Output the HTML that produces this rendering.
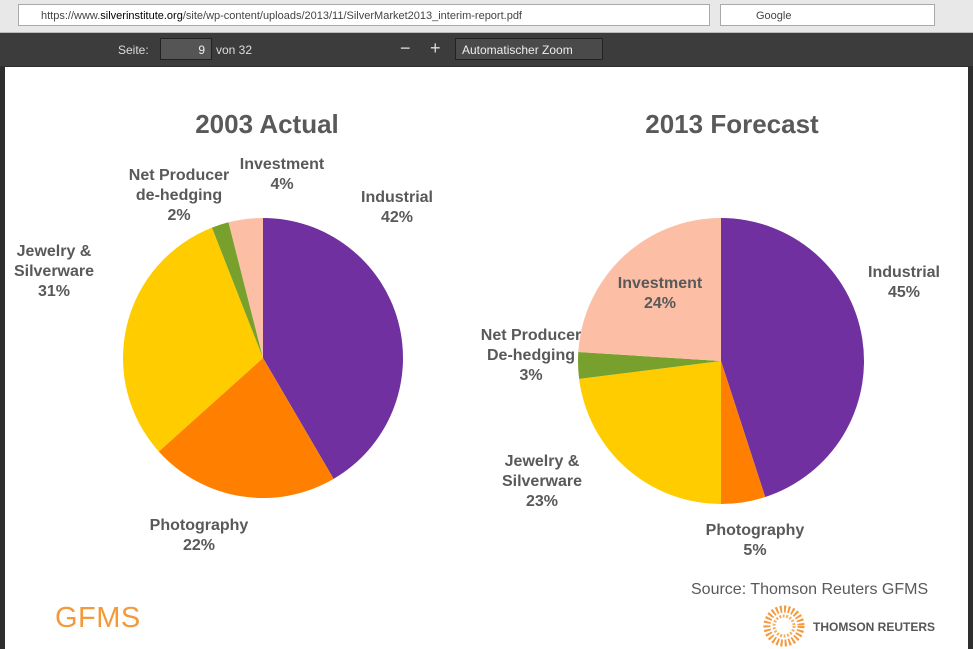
<!DOCTYPE html>
<html><head><meta charset="utf-8"><style>
body{margin:0;width:973px;height:649px;overflow:hidden;background:#2e2e2e;font-family:"Liberation Sans",sans-serif;position:relative}
.abs{position:absolute}
.lbl{position:absolute;font-weight:bold;font-size:16px;color:#595959;text-align:center;line-height:20px;white-space:nowrap;transform:translateX(-50%)}
</style></head><body>
<div class="abs" style="left:0;top:0;width:973px;height:32px;background:#e8e8e8;border-bottom:1px solid #bbb"></div>
<div class="abs" style="left:18px;top:4px;width:692px;height:22px;background:#fff;border:1px solid #aaa;font-size:11px;line-height:22px;color:#444;padding-left:22px;box-sizing:border-box">https://www.<b style="color:#000;font-weight:normal">silverinstitute.org</b>/site/wp-content/uploads/2013/11/SilverMarket2013_interim-report.pdf</div>
<div class="abs" style="left:720px;top:4px;width:215px;height:22px;background:#fff;border:1px solid #aaa;font-size:11px;line-height:22px;color:#444;padding-left:35px;box-sizing:border-box">Google</div>
<div class="abs" style="left:0;top:33px;width:973px;height:33px;background:#3c3c3c;color:#ddd;font-size:12px"></div>
<div class="abs" style="left:118px;top:43px;color:#ddd;font-size:12px">Seite:</div>
<div class="abs" style="left:160px;top:38px;width:52px;height:22px;background:#555;border:1px solid #222;color:#eee;font-size:12px;line-height:22px;text-align:right;padding-right:6px;box-sizing:border-box">9</div>
<div class="abs" style="left:216px;top:43px;color:#ddd;font-size:12px">von 32</div>
<div class="abs" style="left:455px;top:38px;width:148px;height:22px;background:#4a4a4a;border:1px solid #222;color:#eee;font-size:12px;line-height:22px;padding-left:6px;box-sizing:border-box">Automatischer Zoom</div>
<div class="abs" style="left:400px;top:38px;color:#ddd;font-size:18px">−</div>
<div class="abs" style="left:430px;top:38px;color:#ddd;font-size:18px">+</div>
<div class="abs" style="left:5px;top:67px;width:963px;height:582px;background:#fff"></div>
<svg class="abs" style="left:0;top:0" width="973" height="649">
<text x="267" y="133" font-size="26" font-weight="bold" fill="#595959" text-anchor="middle" font-family="Liberation Sans">2003 Actual</text>
<text x="732" y="133" font-size="26" font-weight="bold" fill="#595959" text-anchor="middle" font-family="Liberation Sans">2013 Forecast</text>
<g id="p1"></g><g id="p2"></g>
</svg>
<div class="lbl" style="left:282px;top:155px">Investment<br>4%</div>
<div class="lbl" style="left:179px;top:166px">Net Producer<br>de-hedging<br>2%</div>
<div class="lbl" style="left:397px;top:188px">Industrial<br>42%</div>
<div class="lbl" style="left:54px;top:242px">Jewelry &amp;<br>Silverware<br>31%</div>
<div class="lbl" style="left:199px;top:516px">Photography<br>22%</div>
<div class="lbl" style="left:904px;top:263px">Industrial<br>45%</div>
<div class="lbl" style="left:660px;top:274px">Investment<br>24%</div>
<div class="lbl" style="left:531px;top:326px">Net Producer<br>De-hedging<br>3%</div>
<div class="lbl" style="left:542px;top:452px">Jewelry &amp;<br>Silverware<br>23%</div>
<div class="lbl" style="left:755px;top:521px">Photography<br>5%</div>
<div class="abs" style="left:691px;top:581px;font-size:16px;color:#595959">Source: Thomson Reuters GFMS</div>
<div class="abs" style="left:55px;top:602px;font-size:29px;color:#f39a3c;letter-spacing:0.5px">GFMS</div>
<svg class="abs" style="left:763px;top:605px" width="42" height="42">
<circle cx="21" cy="21" r="17" fill="none" stroke="#f39a3c" stroke-width="7" stroke-dasharray="2 2"/>
<circle cx="21" cy="21" r="10" fill="none" stroke="#f7b060" stroke-width="3" stroke-dasharray="2 1.5"/>
</svg>
<div class="abs" style="left:813px;top:620px;font-size:12px;font-weight:bold;color:#555">THOMSON REUTERS</div>
<script>
const categories=["Industrial","Photography","Jewelry & Silverware","Net Producer de-hedging","Investment"];
const values2003=[42,22,31,2,4];
const values2013=[45,5,23,3,24];
const colors=["#7030a0","#ff8000","#ffcc00","#77a12c","#fcbfa6"];
function drawPie(gid,vals,cx,cy,r,prefix){
  const g=document.getElementById(gid);
  const tot=vals.reduce((a,b)=>a+b,0);
  let a=0;
  vals.forEach((v,i)=>{
    const a0=a/tot*2*Math.PI; a+=v; const a1=a/tot*2*Math.PI;
    const x0=cx+r*Math.sin(a0),y0=cy-r*Math.cos(a0),x1=cx+r*Math.sin(a1),y1=cy-r*Math.cos(a1);
    const p=document.createElementNS("http://www.w3.org/2000/svg","path");
    p.setAttribute("d",`M${cx},${cy}L${x0},${y0}A${r},${r} 0 ${a1-a0>Math.PI?1:0} 1 ${x1},${y1}Z`);
    p.setAttribute("fill",colors[i]);
    
    
    g.appendChild(p);
  });
}
drawPie("p1",values2003,263,358,140,"2003");
drawPie("p2",values2013,721,361,143,"2013");
</script>
</body></html>
